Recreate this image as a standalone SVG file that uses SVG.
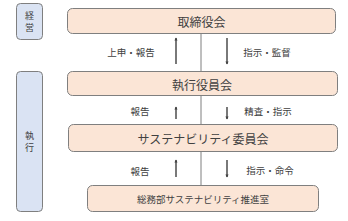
<svg xmlns="http://www.w3.org/2000/svg" width="348" height="221" viewBox="0 0 348 221">
<defs>
<style>
.box{fill:#fbe5d6;stroke:#7f7f7f;stroke-width:1}
.side{fill:#dae3f3;stroke:#7f7f7f;stroke-width:1}
.t{font-family:"Noto Sans CJK JP","Noto Sans",sans-serif;fill:#404040;text-anchor:middle;dominant-baseline:central}
.big{font-size:12px}
.mid{font-size:9.5px}
.lbl{font-size:9.5px}
.sl{font-size:9px}
.cl{stroke:#7f7f7f;stroke-width:1;fill:none}
.ar{stroke:#404040;stroke-width:1.4;fill:none}
</style>
<marker id="ah" viewBox="0 0 6 6" refX="5" refY="3" markerWidth="2.2" markerHeight="2.2" orient="auto">
<path d="M0,0 L6,3 L0,6 z" fill="#404040"/>
</marker>
</defs>
<g id="side-keiei">
<rect class="side" x="16.5" y="3.5" width="26" height="36" rx="4"/>
<text class="t sl" x="29.5" y="15">経</text>
<text class="t sl" x="29.5" y="27">営</text>
</g>
<g id="side-shikko">
<rect class="side" x="16.5" y="71.5" width="26" height="140" rx="4"/>
<text class="t sl" x="29.5" y="135">執</text>
<text class="t sl" x="29.5" y="147">行</text>
</g>
<g id="connectors">
<line class="cl" x1="201" y1="33" x2="201" y2="71"/>
<line class="cl" x1="201" y1="95" x2="201" y2="124"/>
<line class="cl" x1="201" y1="151" x2="201" y2="185"/>
<line class="ar" x1="176" y1="64" x2="176" y2="38" marker-end="url(#ah)"/>
<line class="ar" x1="227" y1="38" x2="227" y2="64" marker-end="url(#ah)"/>
<line class="ar" x1="176" y1="119" x2="176" y2="107" marker-end="url(#ah)"/>
<line class="ar" x1="227" y1="107" x2="227" y2="119" marker-end="url(#ah)"/>
<line class="ar" x1="176" y1="177" x2="176" y2="160" marker-end="url(#ah)"/>
<line class="ar" x1="227" y1="160" x2="227" y2="177" marker-end="url(#ah)"/>
<text class="t lbl" x="131" y="52">上申・報告</text>
<text class="t lbl" x="267" y="52">指示・監督</text>
<text class="t lbl" x="140" y="111">報告</text>
<text class="t lbl" x="268" y="111">精査・指示</text>
<text class="t lbl" x="140" y="171">報告</text>
<text class="t lbl" x="270" y="170">指示・命令</text>
</g>
<g id="torishimariyakukai">
<rect class="box" x="67.5" y="8.5" width="268" height="25" rx="5"/>
<text class="t big" x="201.5" y="21">取締役会</text>
</g>
<g id="shikko-yakuinkai">
<rect class="box" x="67.5" y="71.5" width="270" height="24" rx="5"/>
<text class="t big" x="202" y="84">執行役員会</text>
</g>
<g id="sustainability-iinkai">
<rect class="box" x="68.5" y="124.5" width="269" height="27" rx="5"/>
<text class="t big" x="203" y="138">サステナビリティ委員会</text>
</g>
<g id="somubu">
<rect class="box" x="87.5" y="185.5" width="231" height="26" rx="5"/>
<text class="t mid" x="203" y="198.5">総務部サステナビリティ推進室</text>
</g>
</svg>
